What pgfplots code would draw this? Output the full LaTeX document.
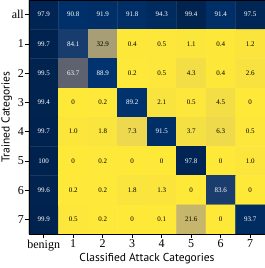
\documentclass[border=0pt]{standalone}
\usepackage{pgfplots}
\pgfplotsset{compat=1.18}
\usepackage{pgfplotstable}
\usepackage{fontspec}
\setmainfont{Liberation Serif}
\newfontfamily\labfont{PT Sans}
\pgfplotstableread{
x y C
0 0 97.9
1 0 90.8
2 0 91.9
3 0 91.8
4 0 94.3
5 0 99.4
6 0 91.4
7 0 97.5
0 1 99.7
1 1 84.1
2 1 32.9
3 1 0.4
4 1 0.5
5 1 1.1
6 1 0.4
7 1 1.2
0 2 99.5
1 2 63.7
2 2 88.9
3 2 0.2
4 2 0.5
5 2 4.3
6 2 0.4
7 2 2.6
0 3 99.4
1 3 0
2 3 0.2
3 3 89.2
4 3 2.1
5 3 0.5
6 3 4.5
7 3 0
0 4 99.7
1 4 1.0
2 4 1.8
3 4 7.3
4 4 91.5
5 4 3.7
6 4 6.3
7 4 0.5
0 5 100
1 5 0
2 5 0.2
3 5 0
4 5 0
5 5 97.8
6 5 0
7 5 1.0
0 6 99.6
1 6 0.2
2 6 0.2
3 6 1.8
4 6 1.3
5 6 0
6 6 83.6
7 6 0
0 7 99.9
1 7 0.5
2 7 0.2
3 7 0
4 7 0.1
5 7 21.6
6 7 0
7 7 93.7
}\cells
\pgfplotstableread{
x y L
0 0 97.9
1 0 90.8
2 0 91.9
3 0 91.8
4 0 94.3
5 0 99.4
6 0 91.4
7 0 97.5
0 1 99.7
1 1 84.1
0 2 99.5
1 2 63.7
2 2 88.9
0 3 99.4
3 3 89.2
0 4 99.7
4 4 91.5
0 5 100
5 5 97.8
0 6 99.6
6 6 83.6
0 7 99.9
7 7 93.7
}\whitelab
\pgfplotstableread{
x y L
2 1 32.9
3 1 0.4
4 1 0.5
5 1 1.1
6 1 0.4
7 1 1.2
3 2 0.2
4 2 0.5
5 2 4.3
6 2 0.4
7 2 2.6
1 3 0
2 3 0.2
4 3 2.1
5 3 0.5
6 3 4.5
7 3 0
1 4 1.0
2 4 1.8
3 4 7.3
5 4 3.7
6 4 6.3
7 4 0.5
1 5 0
2 5 0.2
3 5 0
4 5 0
6 5 0
7 5 1.0
1 6 0.2
2 6 0.2
3 6 1.8
4 6 1.3
5 6 0
7 6 0
1 7 0.5
2 7 0.2
3 7 0
4 7 0.1
5 7 21.6
6 7 0
}\blacklab
\begin{document}
\begin{tikzpicture}
\begin{axis}[
  name=ax,
  scale only axis,
  width=236pt, height=234pt,
  xmin=-0.5, xmax=7.5, ymin=-0.5, ymax=7.5,
  y dir=reverse,
  enlargelimits=false,
  axis on top,
  xtick={0,...,7}, xticklabels={benign,1,2,3,4,5,6,7},
  ytick={0,...,7}, yticklabels={all,1,2,3,4,5,6,7},
  tick pos=left, tick align=outside,
  major tick length=4pt,
  tick style={black, line width=0.6pt},
  ticklabel style={font=\fontsize{12}{12}\selectfont},
  xticklabel style={yshift=1.5pt},
  yticklabel style={inner xsep=1pt},
  xlabel={\labfont\fontsize{11.5}{11.5}\selectfont Classified Attack Categories},
  ylabel={\labfont\fontsize{11.5}{11.5}\selectfont Trained Categories},
  xlabel style={at={(axis description cs:0.5,-0.105)}, anchor=center},
  ylabel style={at={(axis description cs:-0.094,0.5)}, anchor=center},
  axis line style={black, line width=0.6pt},
  colormap={cividisr}{
    rgb255=(254,232,56)
    rgb255=(228,207,91)
    rgb255=(196,181,108)
    rgb255=(166,157,117)
    rgb255=(138,135,121)
    rgb255=(112,113,115)
    rgb255=(87,92,109)
    rgb255=(57,72,107)
    rgb255=(0,51,111)
    rgb255=(0,34,78)
  },
  point meta min=0, point meta max=100,
]
\addplot[matrix plot*, mesh/cols=8, point meta=explicit, shader=flat corner] table[x=x, y=y, meta=C] {\cells};
\addplot[only marks, mark=none, nodes near coords, point meta=explicit symbolic,
  nodes near coords align=center,
  every node near coord/.style={font=\fontsize{7}{7}\selectfont, text=white, anchor=center}]
  table[x=x, y=y, meta=L] {\whitelab};
\addplot[only marks, mark=none, nodes near coords, point meta=explicit symbolic,
  nodes near coords align=center,
  every node near coord/.style={font=\fontsize{7}{7}\selectfont, text=black, anchor=center}]
  table[x=x, y=y, meta=L] {\blacklab};
\end{axis}
\pgfresetboundingbox
\path[use as bounding box] ([shift={(-29pt,-34pt)}]ax.south west) rectangle (ax.north east);
\end{tikzpicture}
\end{document}
